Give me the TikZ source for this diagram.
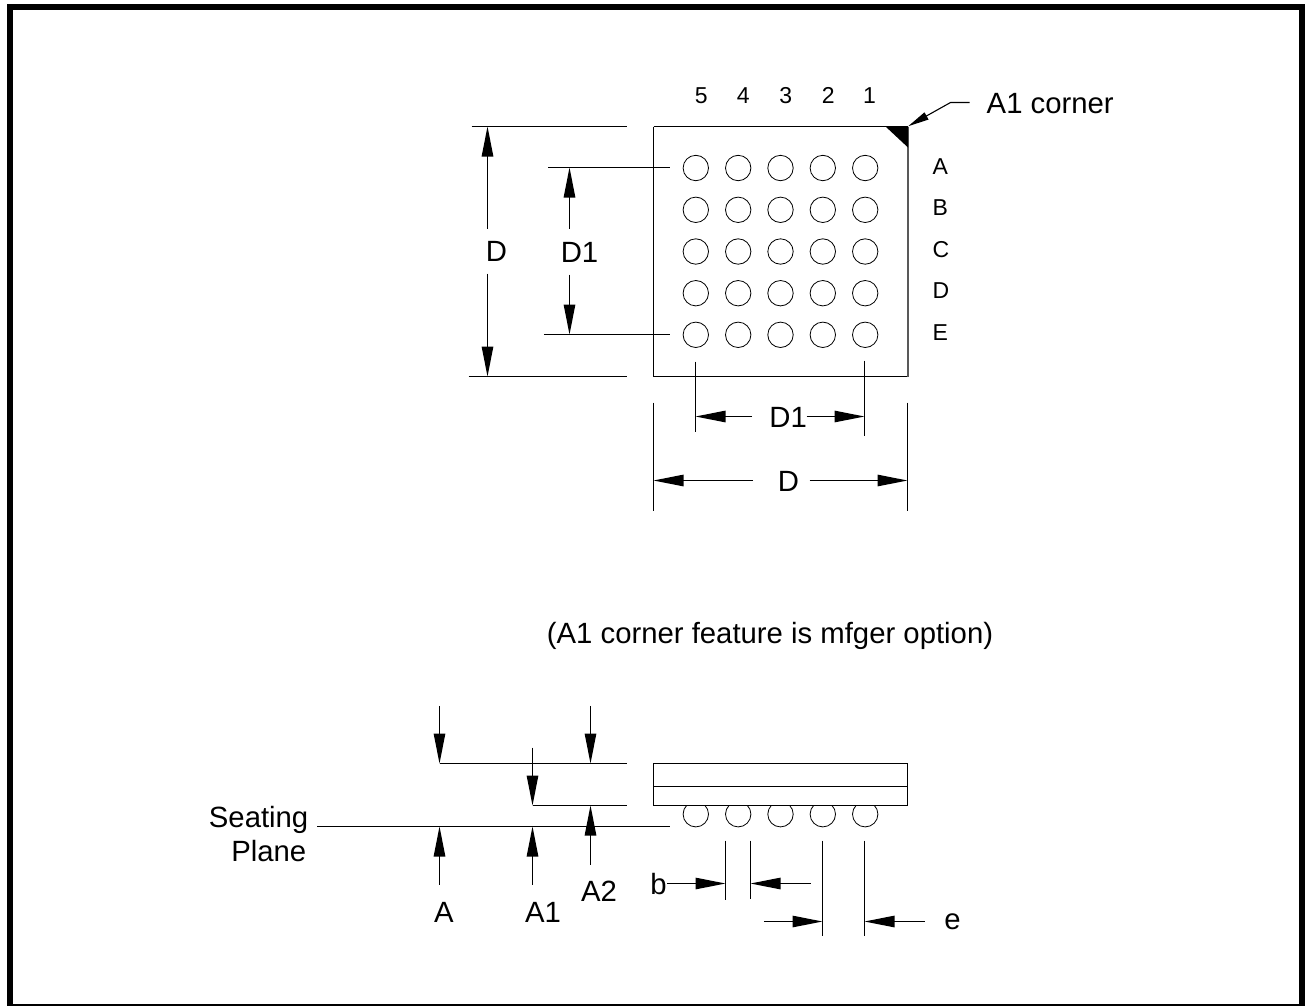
\documentclass[tikz,border=0pt]{standalone}
\usepackage{fontspec}
\usetikzlibrary{arrows.meta}
\setmainfont{Liberation Sans}
\begin{document}
\begin{tikzpicture}[x=1pt,y=-1pt,
  ln/.style={line width=1.1pt,black},
  ball/.style={draw=black,line width=0.8pt,circle,minimum size=25.4pt,inner sep=0pt},
  dimline/.style={ln,-{Triangle[length=30pt,width=11.5pt]}},
  big/.style={font=\fontsize{29.3}{29.3}\selectfont,inner sep=0pt,anchor=base},
  small/.style={font=\fontsize{23}{23}\selectfont,inner sep=0pt,anchor=base}]
\useasboundingbox (0,0) rectangle (1307,1005);
\fill[white] (0,0) rectangle (1307,1005);
% frame
\draw[line width=6pt,line join=miter] (10,7) rectangle (1301.5,1007);
\begin{scope}[shift={(0.5,0.5)}]
% top package
\draw[ln] (653,126) -- (907,126);
\draw[ln] (653,376) -- (907,376);
\draw[ln] (653,126) -- (653,376);
\draw[ln,gray!70!black] (907.5,126) -- (907.5,376);
\fill[black] (885,126) -- (907.5,126) -- (907.5,147) -- cycle;
\foreach \r/\y in {a/167.5,b/209.3,c/251,d/292.7,e/334.3}{
  \foreach \c/\x in {1/695.3,2/737.7,3/780,4/822.3,5/864.7}{
    \node[ball] (b\r\c) at (\x,\y) {};
  }
}
% column and row labels
\foreach \t/\x in {5/700.7,4/742.7,3/785.3,2/827.7,1/869}{
  \node[small] (col\t) at (\x,102.7) {\t};
}
\foreach \t/\y in {A/174,B/215,C/256.5,D/298.3,E/340}{
  \node[small,anchor=base west] (row\t) at (932,\y) {\t};
}
% A1 corner
\node[big,anchor=base west] (a1c) at (986,112.7) {A1 corner};
\coordinate (a1a) at (969,102);
\coordinate (a1b) at (950,102);
\coordinate (a1tip) at (907.7,125.7);
\draw[ln,-{Triangle[length=21pt,width=8pt]}] (a1a) -- (a1b) -- (a1tip);
% left dims
\draw[ln] (471,126) -- (626.7,126);
\draw[ln] (468,376) -- (626.7,376);
\draw[ln] (547.7,167) -- (669,167);
\draw[ln] (543.3,334) -- (669,334);
\node[big] (dL) at (496,261) {D};
\node[big] (d1L) at (579,261.5) {D1};
\draw[dimline] (487,228) -- (487,126);
\draw[dimline] (487,273) -- (487,376);
\draw[dimline] (569,228) -- (569,167);
\draw[dimline] (569,274) -- (569,334);
% bottom dims of top view
\draw[ln] (695,361) -- (695,431.7);
\draw[ln] (864,360) -- (864,435);
\draw[ln] (653,402) -- (653,510);
\draw[ln] (907,402) -- (907,510);
\node[big] (d1B) at (787.7,427.3) {D1};
\node[big] (dB) at (788,490.7) {D};
\draw[dimline] (751.7,416) -- (695,416);
\draw[dimline] (806,416) -- (864,416);
\draw[dimline] (752.7,480) -- (653,480);
\draw[dimline] (809,480) -- (907,480);
% note
\node[big] (note) at (769.5,642.5) {(A1 corner feature is mfger option)};
% side view
\draw[ln] (653,763) rectangle (907,805);
\draw[ln] (653,786) -- (907,786);
\begin{scope}
\clip (640,805) rectangle (920,840);
\foreach \c/\x in {1/695.3,2/737.7,3/780,4/822.3,5/864.7}{
  \node[ball] (s\c) at (\x,813.7) {};
}
\end{scope}
\draw[ln] (439,763) -- (626.7,763);
\draw[ln] (532,805) -- (626.7,805);
\draw[ln] (316.7,826) -- (669,826);
\draw[dimline] (439,705.3) -- (439,763);
\draw[dimline] (439,884.3) -- (439,826);
\draw[dimline] (532,747) -- (532,805);
\draw[dimline] (532,884.3) -- (532,826);
\draw[dimline] (590,705.3) -- (590,763);
\draw[dimline] (590,864) -- (590,805);
\draw[ln] (725,840) -- (725,899.7);
\draw[ln] (750,840) -- (750,898);
\draw[ln] (822,840) -- (822,935);
\draw[ln] (864,840) -- (864,935);
\draw[dimline] (666.7,883) -- (725,883);
\draw[dimline] (810,883) -- (750,883);
\draw[dimline] (763.3,921) -- (822,921);
\draw[dimline] (924,921) -- (864,921);
\node[big,anchor=base east] (seat) at (308,826.7) {Seating};
\node[big,anchor=base east] (plane) at (306,860.7) {Plane};
\node[big] (lA) at (443.3,921.7) {A};
\node[big] (lA1) at (542.5,921.7) {A1};
\node[big] (lA2) at (598.5,900.7) {A2};
\node[big] (lb) at (658,894) {b};
\node[big] (le) at (952,929.3) {e};
\end{scope}
\end{tikzpicture}
\end{document}
